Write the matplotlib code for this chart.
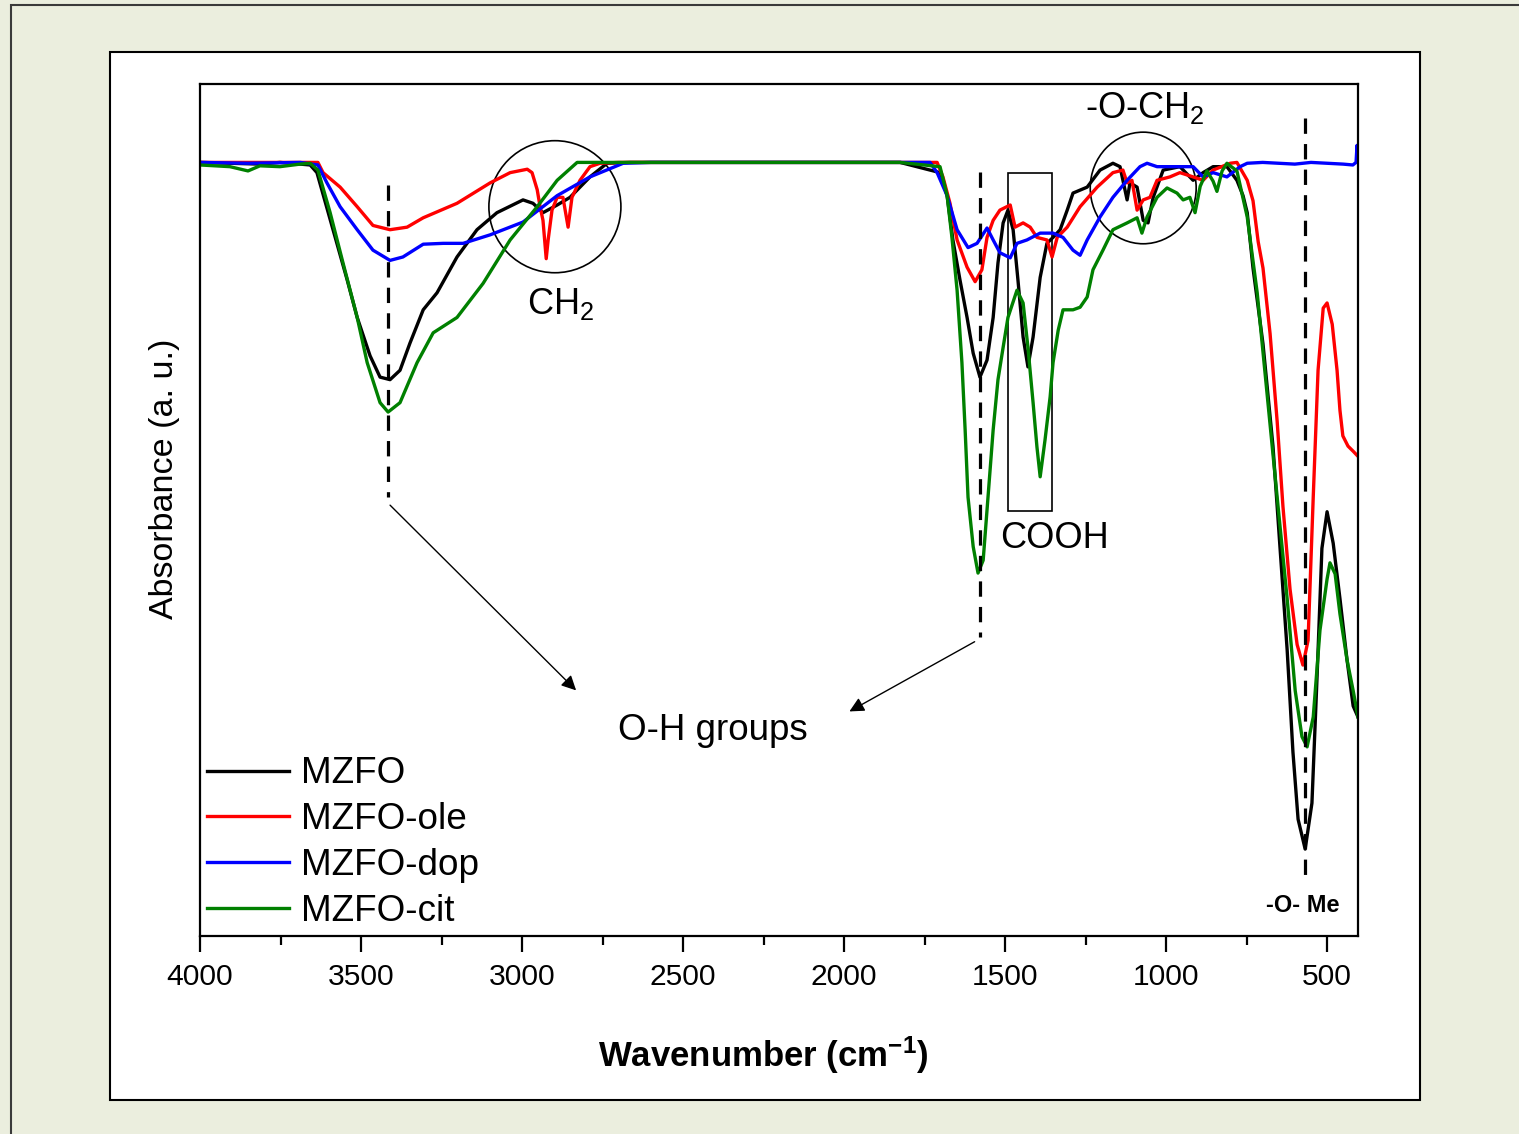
import matplotlib.pyplot as plt
from matplotlib.patches import Ellipse, Rectangle

plt.rcParams["font.family"] = ["Liberation Sans", "DejaVu Sans"]
plt.rcParams["mathtext.fontset"] = "custom"
plt.rcParams["mathtext.rm"] = "Liberation Sans"
plt.rcParams["mathtext.it"] = "Liberation Sans:italic"
plt.rcParams["mathtext.bf"] = "Liberation Sans:bold"

# FTIR spectra, wavenumber (cm-1) vs absorbance (a. u.)
wn_mzfo = [4000, 3907, 3814, 3752, 3689, 3658, 3637, 3587, 3543, 3512, 3472, 3441, 3410, 3379,
           3348, 3307, 3264, 3202, 3140, 3078, 2997, 2966, 2935, 2891, 2851, 2789, 2736, 2665,
           2137, 1826, 1733, 1702, 1680, 1662, 1640, 1618, 1599, 1578, 1556, 1537, 1522, 1506,
           1491, 1475, 1460, 1444, 1429, 1413, 1391, 1370, 1351, 1329, 1307, 1289, 1245, 1205,
           1165, 1143, 1134, 1121, 1112, 1090, 1071, 1056, 1040, 1009, 957, 916, 885, 854, 811,
           780, 761, 748, 730, 699, 668, 646, 624, 606, 590, 568, 547, 531, 516, 500, 481, 460,
           438, 419, 404]
ab_mzfo = [0.908, 0.907, 0.906, 0.908, 0.906, 0.905, 0.896, 0.829, 0.770, 0.726, 0.681, 0.656,
           0.653, 0.664, 0.696, 0.735, 0.755, 0.797, 0.829, 0.849, 0.864, 0.860, 0.849, 0.858,
           0.867, 0.891, 0.907, 0.908, 0.908, 0.908, 0.899, 0.896, 0.869, 0.817, 0.770, 0.726,
           0.684, 0.656, 0.676, 0.726, 0.790, 0.837, 0.852, 0.829, 0.770, 0.703, 0.668, 0.703,
           0.773, 0.813, 0.820, 0.829, 0.852, 0.872, 0.879, 0.899, 0.907, 0.903, 0.887, 0.864,
           0.884, 0.879, 0.840, 0.837, 0.867, 0.899, 0.903, 0.887, 0.896, 0.903, 0.903, 0.887,
           0.869, 0.849, 0.784, 0.695, 0.575, 0.455, 0.336, 0.216, 0.137, 0.102, 0.156, 0.305,
           0.455, 0.498, 0.461, 0.396, 0.324, 0.270, 0.257]

wn_ole = [4000, 3814, 3689, 3634, 3618, 3565, 3512, 3463, 3410, 3357, 3307, 3202, 3099, 3037,
          2984, 2969, 2953, 2944, 2935, 2925, 2919, 2907, 2891, 2873, 2857, 2845, 2820, 2789,
          2758, 2700, 1826, 1711, 1693, 1671, 1649, 1618, 1593, 1572, 1556, 1537, 1516, 1484,
          1469, 1444, 1422, 1401, 1370, 1354, 1338, 1307, 1267, 1214, 1165, 1134, 1121, 1106,
          1090, 1071, 1050, 1028, 988, 957, 916, 885, 854, 801, 780, 748, 730, 714, 699, 677,
          655, 637, 615, 593, 575, 559, 543, 528, 512, 500, 484, 469, 460, 451, 435, 419, 404]
ab_ole = [0.908, 0.908, 0.908, 0.908, 0.896, 0.879, 0.856, 0.834, 0.829, 0.832, 0.843, 0.860,
          0.884, 0.896, 0.900, 0.896, 0.876, 0.856, 0.840, 0.795, 0.817, 0.852, 0.867, 0.867,
          0.832, 0.867, 0.887, 0.903, 0.907, 0.908, 0.908, 0.908, 0.891, 0.860, 0.817, 0.785,
          0.768, 0.782, 0.820, 0.840, 0.852, 0.858, 0.832, 0.837, 0.832, 0.820, 0.817, 0.797,
          0.820, 0.832, 0.856, 0.879, 0.896, 0.899, 0.884, 0.887, 0.852, 0.864, 0.867, 0.887,
          0.891, 0.896, 0.891, 0.887, 0.899, 0.907, 0.908, 0.887, 0.863, 0.815, 0.784, 0.707,
          0.604, 0.504, 0.407, 0.342, 0.318, 0.347, 0.515, 0.664, 0.737, 0.743, 0.718, 0.664,
          0.617, 0.587, 0.575, 0.569, 0.563]

wn_dop = [4000, 3851, 3689, 3634, 3606, 3565, 3512, 3463, 3410, 3370, 3307, 3245, 3183, 3099,
          2997, 2891, 2789, 2686, 2600, 1826, 1733, 1711, 1680, 1649, 1615, 1587, 1556, 1537,
          1516, 1484, 1463, 1432, 1391, 1351, 1320, 1289, 1267, 1245, 1205, 1165, 1121, 1081,
          1059, 1028, 997, 957, 916, 885, 854, 811, 770, 748, 700, 600, 550, 500, 450, 420, 410,
          407, 404]
ab_dop = [0.908, 0.907, 0.908, 0.905, 0.884, 0.856, 0.829, 0.805, 0.793, 0.797, 0.812, 0.813,
          0.813, 0.823, 0.838, 0.869, 0.891, 0.907, 0.908, 0.908, 0.908, 0.896, 0.869, 0.829,
          0.808, 0.813, 0.831, 0.817, 0.802, 0.796, 0.813, 0.817, 0.825, 0.825, 0.820, 0.805,
          0.799, 0.817, 0.844, 0.867, 0.887, 0.903, 0.907, 0.903, 0.903, 0.903, 0.903, 0.891,
          0.896, 0.891, 0.903, 0.907, 0.908, 0.906, 0.908, 0.907, 0.906, 0.905, 0.908, 0.928,
          0.915]

wn_cit = [4000, 3907, 3851, 3814, 3752, 3689, 3658, 3634, 3596, 3556, 3512, 3481, 3441, 3416,
          3379, 3326, 3276, 3202, 3121, 3037, 2953, 2891, 2829, 2600, 1826, 1702, 1680, 1665,
          1649, 1634, 1624, 1615, 1599, 1584, 1568, 1553, 1537, 1522, 1506, 1491, 1463, 1444,
          1429, 1413, 1401, 1391, 1376, 1360, 1351, 1335, 1320, 1289, 1267, 1245, 1227, 1196,
          1165, 1121, 1090, 1075, 1059, 1028, 997, 966, 947, 926, 910, 894, 873, 854, 842, 826,
          811, 780, 748, 717, 686, 655, 624, 599, 578, 562, 543, 522, 500, 491, 475, 460, 438,
          419, 404]
ab_cit = [0.905, 0.903, 0.898, 0.904, 0.903, 0.906, 0.907, 0.899, 0.849, 0.790, 0.726, 0.673,
          0.626, 0.615, 0.626, 0.673, 0.708, 0.726, 0.766, 0.817, 0.856, 0.887, 0.908, 0.908,
          0.908, 0.903, 0.869, 0.820, 0.758, 0.673, 0.594, 0.515, 0.457, 0.426, 0.441, 0.515,
          0.594, 0.653, 0.691, 0.726, 0.758, 0.743, 0.691, 0.626, 0.574, 0.539, 0.582, 0.633,
          0.673, 0.711, 0.735, 0.735, 0.738, 0.750, 0.782, 0.805, 0.829, 0.837, 0.843, 0.825,
          0.844, 0.867, 0.878, 0.872, 0.864, 0.867, 0.849, 0.880, 0.898, 0.886, 0.874, 0.898,
          0.907, 0.898, 0.844, 0.755, 0.635, 0.515, 0.396, 0.288, 0.234, 0.222, 0.257, 0.359,
          0.419, 0.438, 0.425, 0.378, 0.324, 0.288, 0.257]

labels = ["MZFO", "MZFO-ole", "MZFO-dop", "MZFO-cit"]
colors = ["#000000", "#ff0000", "#0000ff", "#008000"]
series = [(wn_mzfo, ab_mzfo), (wn_ole, ab_ole), (wn_dop, ab_dop), (wn_cit, ab_cit)]

# band positions marked with dashed guides (cm-1, from, to)
guides = [(3416, 0.881, 0.515), (1578, 0.897, 0.351), (568, 0.960, 0.066)]

fig = plt.figure(figsize=(15.19, 11.34), dpi=100, facecolor="#ebeede")
fig.add_artist(Rectangle((0.0072, -0.1), 2.0, 1.0956, transform=fig.transFigure,
                         facecolor="none", edgecolor="#3a3a3a", lw=1.5))
fig.add_artist(Rectangle((0.0724, 0.0300), 0.8624, 0.9241, transform=fig.transFigure,
                         facecolor="white", edgecolor="black", lw=1.5, zorder=0))

ax = fig.add_axes([0.1317, 0.1746, 0.7623, 0.7513])
for (wn, ab), lab, col in zip(series, labels, colors):
    ax.plot(wn, ab, color=col, lw=2.4, label=lab)

for x, y0, y1 in guides:
    ax.plot([x, x], [y0, y1], color="black", lw=2.3, ls=(0, (4.8, 3.2)), zorder=5)

ax.set_xlim(4000, 404)
ax.set_ylim(0, 1)
ax.set_xticks([4000, 3500, 3000, 2500, 2000, 1500, 1000, 500])
ax.set_xticks([3750, 3250, 2750, 2250, 1750, 1250, 750], minor=True)
ax.set_yticks([])
ax.tick_params(axis="x", which="major", direction="out", length=11.5, width=1.6,
               labelsize=21.6, pad=8)
ax.tick_params(axis="x", which="minor", direction="out", length=6.5, width=1.6)
for sp in ax.spines.values():
    sp.set_linewidth(1.6)

# annotations
ax.add_patch(Ellipse((2898, 0.856), 410, 0.155, fill=False, edgecolor="black", lw=1.2))
ax.add_patch(Ellipse((1071, 0.878), 329, 0.131, fill=False, edgecolor="black", lw=1.2))
ax.add_patch(Rectangle((1354, 0.499), 137, 0.397, fill=False, edgecolor="black", lw=1.2))
ax.text(2880, 0.742, r"CH$_2$", fontsize=26, ha="center", va="center")
ax.text(1345, 0.467, "COOH", fontsize=26, ha="center", va="center")
ax.text(1065, 0.972, r"-O-CH$_2$", fontsize=26, ha="center", va="center")
ax.text(575, 0.036, "-O- Me", fontsize=17, fontweight="bold", ha="center", va="center")
ax.text(2407, 0.241, "O-H groups", fontsize=26.5, ha="center", va="center")
ax.annotate("", xy=(2826, 0.286), xytext=(3416, 0.508),
            arrowprops=dict(arrowstyle="-|>", color="black", lw=1.0, mutation_scale=22))
ax.annotate("", xy=(1991, 0.262), xytext=(1587, 0.347),
            arrowprops=dict(arrowstyle="-|>", color="black", lw=1.0, mutation_scale=22))

leg = ax.legend(loc="lower left", bbox_to_anchor=(0.0, 0.0), frameon=False, fontsize=26.6,
                handlelength=2.2, handletextpad=0.32, labelspacing=0.29,
                borderpad=0.2, borderaxespad=0.0)
for h in leg.get_lines():
    h.set_linewidth(2.4)

fig.text(0.5026, 0.0591, r"Wavenumber (cm$^{\mathbf{-1}}$)", fontsize=25, fontweight="bold",
         ha="center", va="baseline")
fig.text(0.108, 0.578, "Absorbance (a. u.)", fontsize=24.5, rotation=90,
         ha="center", va="center")

fig.savefig("out.png", dpi=100, facecolor=fig.get_facecolor())
